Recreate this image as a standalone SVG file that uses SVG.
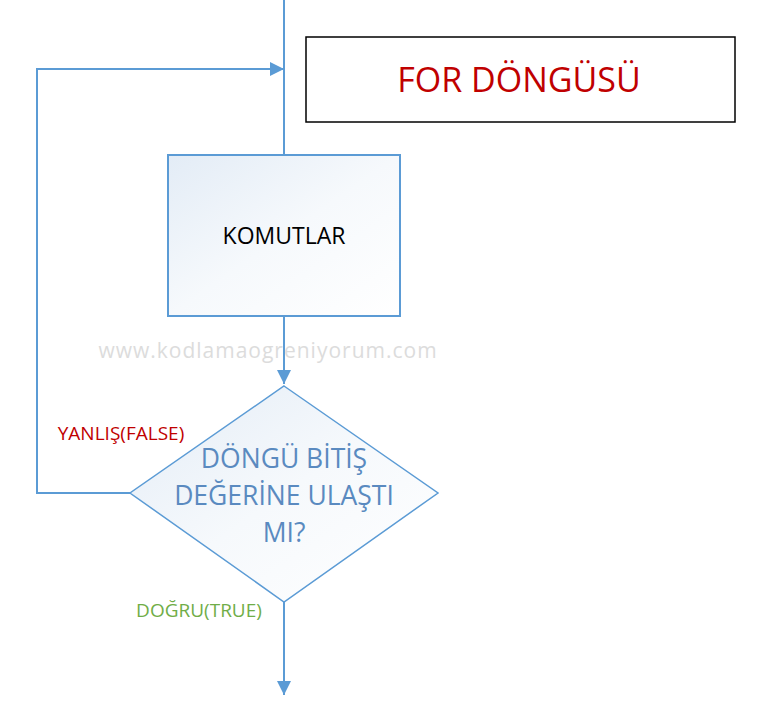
<svg xmlns="http://www.w3.org/2000/svg" width="762" height="718" viewBox="0 0 762 718">
<style>
.ln{fill:none;stroke:#5B9BD5;stroke-width:2}
.t{font-family:"Open Sans","Liberation Sans",sans-serif;text-anchor:middle}
</style>
<defs>
<marker id="ah" viewBox="0 0 10 10" refX="10" refY="5" markerWidth="7" markerHeight="7" markerUnits="strokeWidth" orient="auto"><path d="M0,0 L10,5 L0,10 Z" fill="#5B9BD5"/></marker>
<linearGradient id="g" x1="0" y1="0" x2="1" y2="1"><stop offset="0" stop-color="#E3ECF6"/><stop offset="0.5" stop-color="#F6F9FC"/><stop offset="1" stop-color="#FFFFFF"/></linearGradient>
</defs>
<rect width="762" height="718" fill="#fff"/>
<g id="connectors">
<line class="ln" x1="284" y1="0" x2="284" y2="155"/>
<line class="ln" x1="284" y1="316" x2="284" y2="384" marker-end="url(#ah)"/>
<polyline class="ln" points="130,493 37,493 37,69 284,69" marker-end="url(#ah)"/>
<line class="ln" x1="284" y1="602" x2="284" y2="695" marker-end="url(#ah)"/>
</g>
<g id="title">
<rect x="306" y="37" width="429" height="85" fill="#fff" stroke="#000" stroke-width="1.5"/>
<text class="t" x="519" y="92" font-size="34" fill="#C00000">FOR DÖNGÜSÜ</text>
</g>
<g id="komutlar">
<rect x="168" y="155" width="232" height="161" fill="url(#g)" stroke="#5B9BD5" stroke-width="2"/>
<text class="t" x="284" y="244" font-size="23" fill="#000">KOMUTLAR</text>
</g>
<text class="t" x="268" y="358" font-size="21" fill="#DCDCDC" letter-spacing="1">www.kodlamaogreniyorum.com</text>
<g id="decision">
<polygon points="284,386 438,493 284,602 130,493" fill="url(#g)" stroke="#5B9BD5" stroke-width="1.5"/>
<text class="t" font-size="26.5" fill="#5A8AC0"><tspan x="284" y="468">DÖNGÜ BİTİŞ</tspan><tspan x="284" y="505">DEĞERİNE ULAŞTI</tspan><tspan x="284" y="542">MI?</tspan></text>
</g>
<text class="t" x="121" y="440" font-size="19" fill="#C00000">YANLIŞ(FALSE)</text>
<text class="t" x="199" y="617" font-size="19" fill="#70AD47">DOĞRU(TRUE)</text>
</svg>
